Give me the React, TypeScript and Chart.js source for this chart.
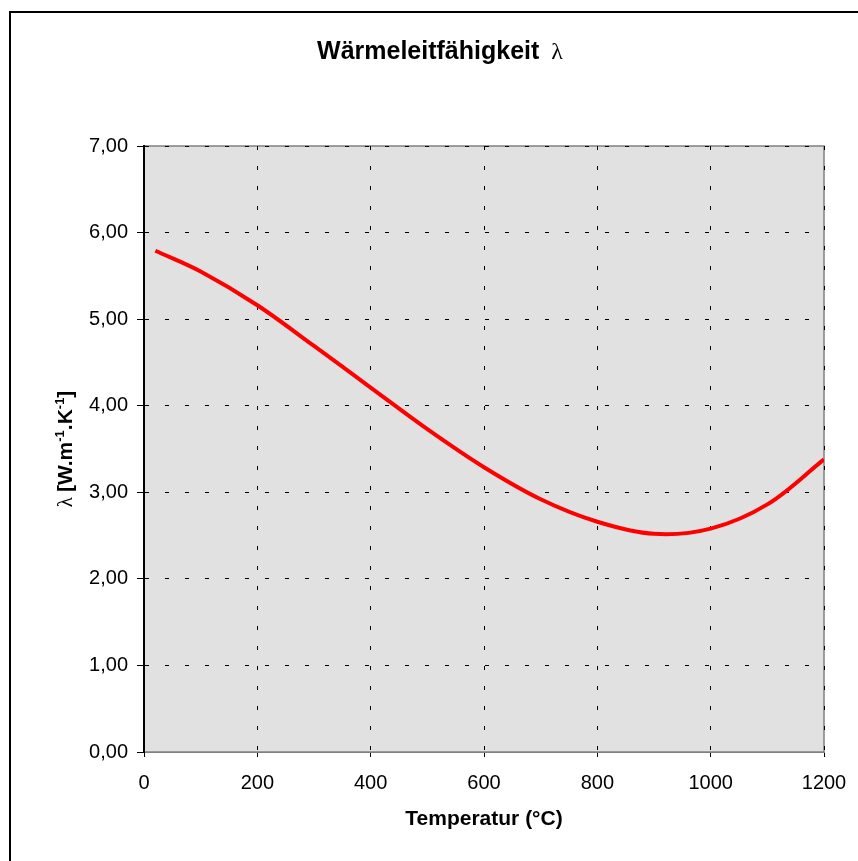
import React, { useEffect, useRef } from "react";
import { Chart, registerables } from "chart.js";

Chart.register(...registerables);

// ---- data ----
const temperatures = [20, 100, 200, 300, 400, 500, 600, 700, 800, 900, 1000, 1100, 1200];
const conductivity = [5.79, 5.55, 5.16, 4.69, 4.21, 3.73, 3.29, 2.92, 2.66, 2.52, 2.58, 2.86, 3.38];
const xTickValues = [0, 200, 400, 600, 800, 1000, 1200];
const yTickValues = [0, 1, 2, 3, 4, 5, 6, 7];
const titleMain = "Wärmeleitfähigkeit";
const titleSymbol = "  λ";
const xAxisTitle = "Temperatur (°C)";

const SANS = "'Liberation Sans', Arial, sans-serif";
const SERIF = "'Liberation Serif', 'Times New Roman', serif";

type Run = { text: string; font: string; rise?: number };

function drawRuns(ctx: CanvasRenderingContext2D, runs: Run[], cx: number, y: number) {
  let total = 0;
  const widths = runs.map((r) => {
    ctx.font = r.font;
    const w = ctx.measureText(r.text).width;
    total += w;
    return w;
  });
  let x = cx - total / 2;
  runs.forEach((r, i) => {
    ctx.font = r.font;
    ctx.fillText(r.text, x, y - (r.rise || 0));
    x += widths[i];
  });
}

const decorPlugin = {
  id: "decor",
  beforeDraw(chart: any) {
    const { ctx, chartArea: a } = chart;
    ctx.save();
    ctx.fillStyle = "#ffffff";
    ctx.fillRect(0, 0, chart.width, chart.height);
    ctx.fillStyle = "#e1e1e1";
    ctx.fillRect(a.left, a.top, a.right - a.left, a.bottom - a.top);
    ctx.strokeStyle = "#808080";
    ctx.lineWidth = 1.5;
    ctx.strokeRect(a.left, a.top, a.right - a.left, a.bottom - a.top);
    ctx.strokeStyle = "#000000";
    ctx.lineWidth = 2;
    ctx.strokeRect(10, 12, 1000, 1000);
    ctx.restore();
  },
  afterDraw(chart: any) {
    const { ctx, chartArea: a } = chart;
    ctx.save();
    ctx.fillStyle = "#000000";
    ctx.textBaseline = "alphabetic";
    ctx.textAlign = "left";
    // chart title
    drawRuns(
      ctx,
      [
        { text: titleMain, font: `bold 25px ${SANS}` },
        { text: titleSymbol, font: `24px ${SERIF}` },
      ],
      440,
      59
    );
    // x axis title
    drawRuns(ctx, [{ text: xAxisTitle, font: `bold 21px ${SANS}` }], (a.left + a.right) / 2, 825);
    // y axis title (rotated)
    ctx.translate(72, (a.top + a.bottom) / 2);
    ctx.rotate(-Math.PI / 2);
    drawRuns(
      ctx,
      [
        { text: "λ ", font: `21px ${SERIF}` },
        { text: "[W.m", font: `bold 21px ${SANS}` },
        { text: "-1", font: `bold 13px ${SANS}`, rise: 8 },
        { text: ".K", font: `bold 21px ${SANS}` },
        { text: "-1", font: `bold 13px ${SANS}`, rise: 8 },
        { text: "]", font: `bold 21px ${SANS}` },
      ],
      0,
      0
    );
    ctx.restore();
  },
};

export default function App() {
  const canvasRef = useRef<HTMLCanvasElement | null>(null);

  useEffect(() => {
    if (!canvasRef.current) return;
    const points = temperatures.map((t, i) => ({ x: t, y: conductivity[i] }));
    const chart = new Chart(canvasRef.current, {
      type: "line",
      data: {
        datasets: [
          {
            data: points,
            borderColor: "#ff0000",
            borderWidth: 4,
            pointRadius: 0,
            tension: 0.35,
            fill: false,
          },
        ],
      },
      options: {
        animation: false,
        responsive: false,
        maintainAspectRatio: false,
        layout: { padding: { left: 0, top: 146, right: 34, bottom: 0 } },
        plugins: {
          legend: { display: false },
          tooltip: { enabled: false },
          title: { display: false },
        },
        scales: {
          x: {
            type: "linear",
            min: 0,
            max: 1200,
            afterFit: (s: any) => {
              s.height = 109;
              s.paddingLeft = 0;
              s.paddingRight = 0;
            },
            afterBuildTicks: (s: any) => {
              s.ticks = xTickValues.map((v) => ({ value: v }));
            },
            ticks: {
              color: "#000",
              font: { family: SANS, size: 20 },
              padding: 14,
              maxRotation: 0,
              autoSkip: false,
              callback: (v: any) => String(v),
            },
            grid: {
              color: "#000",
              lineWidth: 1,
              tickLength: 5,
              tickColor: "#000",
              drawTicks: true,
            },
            border: { display: true, color: "#808080", width: 1, dash: [4, 16] },
          },
          y: {
            type: "linear",
            min: 0,
            max: 7,
            afterFit: (s: any) => {
              s.width = 144;
              s.paddingTop = 0;
              s.paddingBottom = 0;
            },
            afterBuildTicks: (s: any) => {
              s.ticks = yTickValues.map((v) => ({ value: v }));
            },
            ticks: {
              color: "#000",
              font: { family: SANS, size: 20 },
              padding: 9,
              callback: (v: any) => Number(v).toFixed(2).replace(".", ","),
            },
            grid: {
              color: "#000",
              lineWidth: 1,
              tickLength: 7,
              tickColor: "#000",
              drawTicks: true,
            },
            border: { display: true, color: "#000", width: 2, dash: [4, 16] },
          },
        },
      },
      plugins: [decorPlugin],
    });
    return () => chart.destroy();
  }, []);

  return (
    <div style={{ position: "absolute", left: 0, top: 0, width: 858, height: 861, overflow: "hidden" }}>
      <canvas ref={canvasRef} width={858} height={861} style={{ display: "block" }} />
    </div>
  );
}
